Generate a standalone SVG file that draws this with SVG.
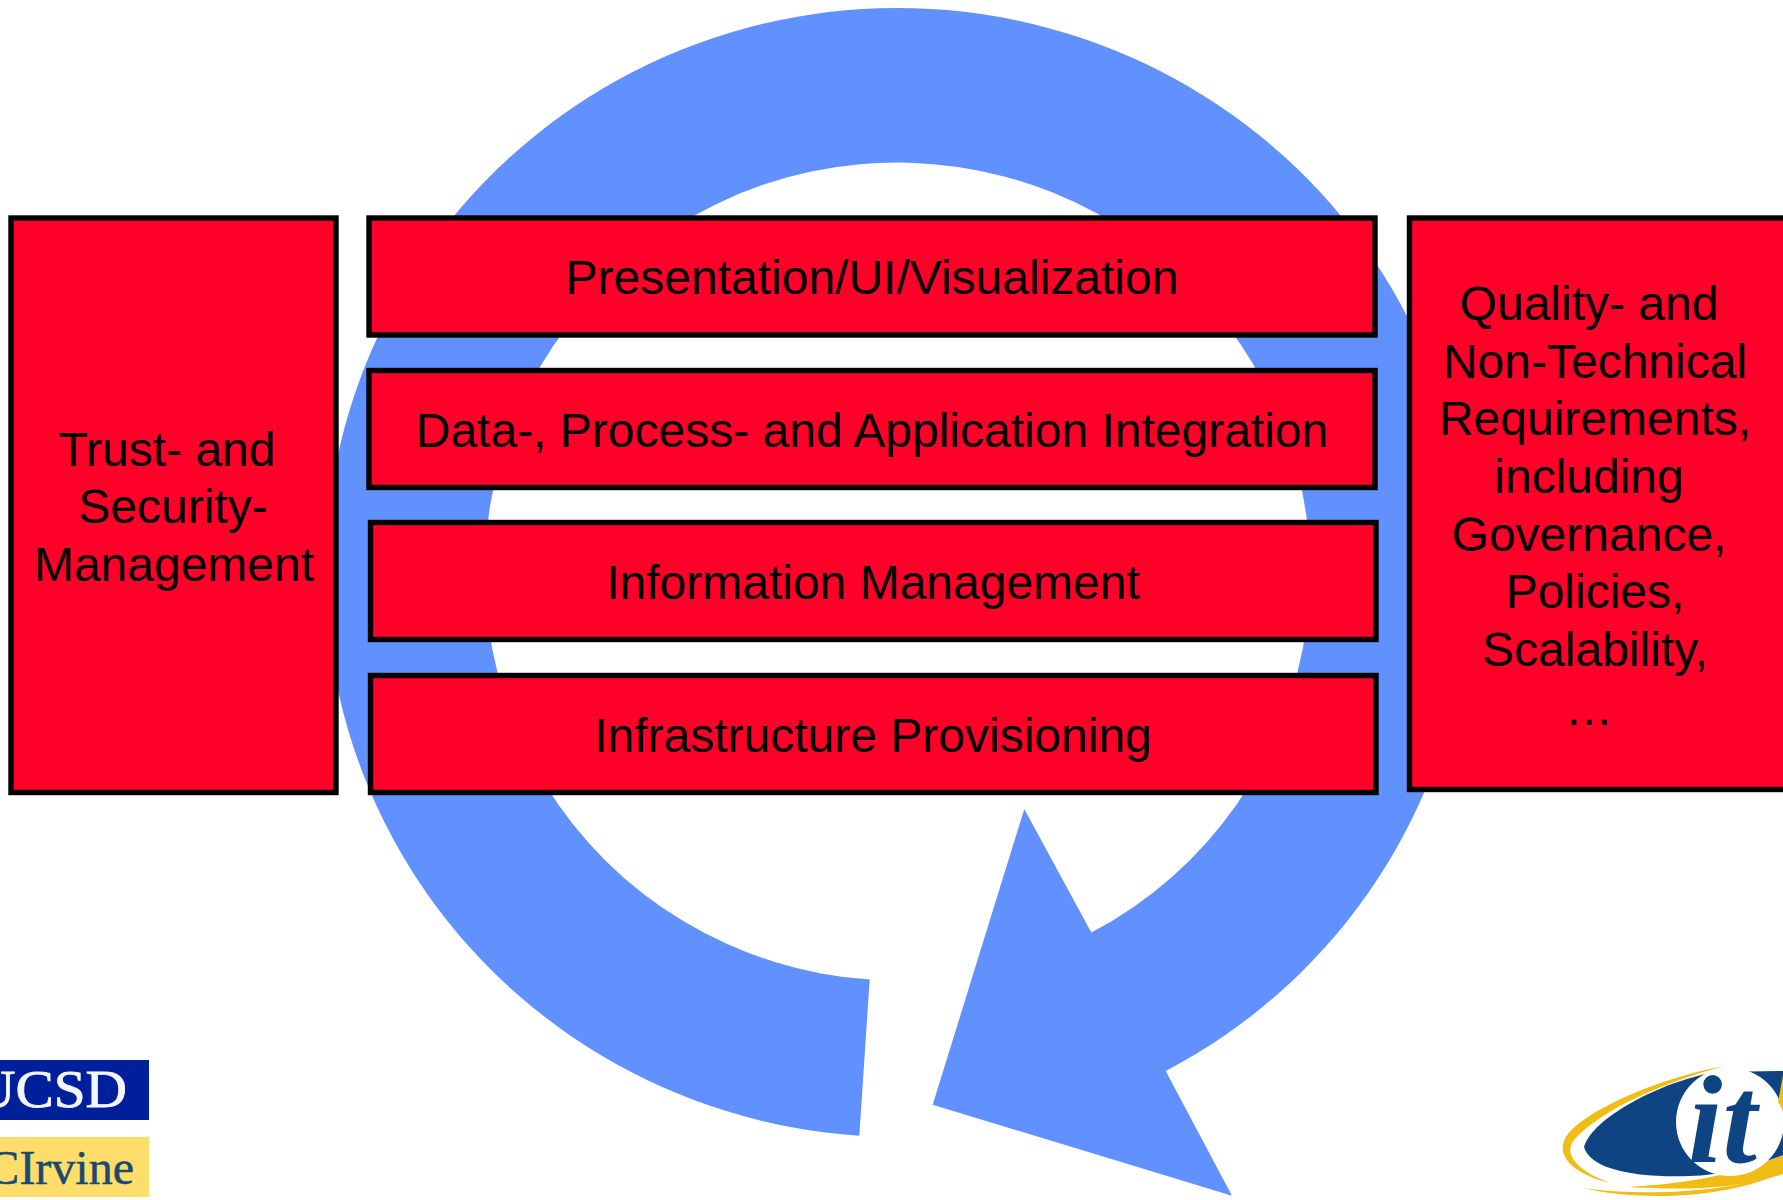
<svg xmlns="http://www.w3.org/2000/svg" width="1783" height="1200" viewBox="0 0 1783 1200">
<style>
.box{fill:#ff0029;stroke:#000;stroke-width:5.4}
.lbl{font-family:"Liberation Sans",Arial,sans-serif;font-size:48px;fill:#000;text-anchor:middle}
.logo{font-family:"Liberation Serif","Times New Roman",serif}
</style>
<defs><clipPath id="itclip"><rect x="1540" y="1050" width="243" height="150"/></clipPath></defs>
<rect width="1783" height="1200" fill="#fff"/>
<g id="cycle-arrow"><path fill="#6191ff" d="M859.3 1135.7A572 564.5 0 1 1 1165.7 1071L1232 1195.7L932.7 1104.7L1024.3 809L1091.3 932.6A412.7 409 0 1 0 869.7 979.6Z"/></g>
<g id="trust"><rect class="box" x="11" y="218" width="325" height="574.5"/>
<text class="lbl" x="167" y="466">Trust- and</text><text class="lbl" x="173" y="523">Security-</text><text class="lbl" x="174" y="581">Management</text></g>
<g id="presentation"><rect class="box" x="369" y="218" width="1006" height="117"/><text class="lbl" x="872" y="294">Presentation/UI/Visualization</text></g>
<g id="integration"><rect class="box" x="369" y="370.5" width="1006" height="117"/><text class="lbl" x="872" y="447">Data-, Process- and Application Integration</text></g>
<g id="information"><rect class="box" x="370.5" y="522.5" width="1005.5" height="117"/><text class="lbl" x="873" y="599">Information Management</text></g>
<g id="infrastructure"><rect class="box" x="370.5" y="675.5" width="1005.5" height="117"/><text class="lbl" x="873" y="752">Infrastructure Provisioning</text></g>
<g id="quality"><rect class="box" x="1409.5" y="218" width="378" height="571.5"/>
<text class="lbl" x="1589" y="320">Quality- and</text><text class="lbl" x="1595" y="378">Non-Technical</text><text class="lbl" x="1595" y="435">Requirements,</text><text class="lbl" x="1589" y="493">including</text><text class="lbl" x="1589" y="551">Governance,</text><text class="lbl" x="1595" y="608">Policies,</text><text class="lbl" x="1595" y="666">Scalability,</text><text class="lbl" x="1589" y="725">…</text></g>
<g id="logo-ucsd"><rect x="0" y="1060" width="149" height="60" fill="#00209b"/><text class="logo" x="-26" y="1107" font-size="52" fill="#f4f6ff" stroke="#f4f6ff" stroke-width="0.8" textLength="153" lengthAdjust="spacingAndGlyphs">UCSD</text></g>
<g id="logo-uci"><rect x="0" y="1137" width="149" height="60" fill="#ffdd6b"/><text class="logo" x="134" y="1184" font-size="48" fill="#1a4a70" stroke="#1a4a70" stroke-width="0.5" text-anchor="end">UCIrvine</text></g>
<g id="logo-it" clip-path="url(#itclip)">
<path fill="#f2bc17" d="M1724 1066C1660 1078 1590 1108 1568 1134C1555 1150 1565 1172 1610 1183C1580 1172 1562 1155 1574 1140C1600 1110 1665 1082 1724 1066Z"/>
<path fill="#f2bc17" d="M1583 1188C1640 1202 1730 1198 1783 1172L1783 1158C1730 1180 1680 1184 1630 1187C1680 1190 1730 1180 1783 1160L1783 1172C1740 1190 1650 1198 1583 1188Z"/>
<path fill="#f2bc17" d="M1630 1187C1680 1184 1735 1176 1783 1155L1783 1174C1735 1190 1680 1190 1630 1187Z"/>
<path fill="#0e4482" d="M1584 1147C1592 1118 1660 1082 1715 1072L1783 1071L1783 1155C1750 1168 1720 1175 1690 1176C1630 1178 1590 1168 1584 1147Z"/>
<circle cx="1730" cy="1122" r="54" fill="#fff"/>
<path fill="#f2bc17" d="M1783 1075L1783 1110L1778 1102Z"/>
<text class="logo" x="1688" y="1162" font-size="124" font-style="italic" font-weight="bold" fill="#0e4482">it</text>
</g>
</svg>
